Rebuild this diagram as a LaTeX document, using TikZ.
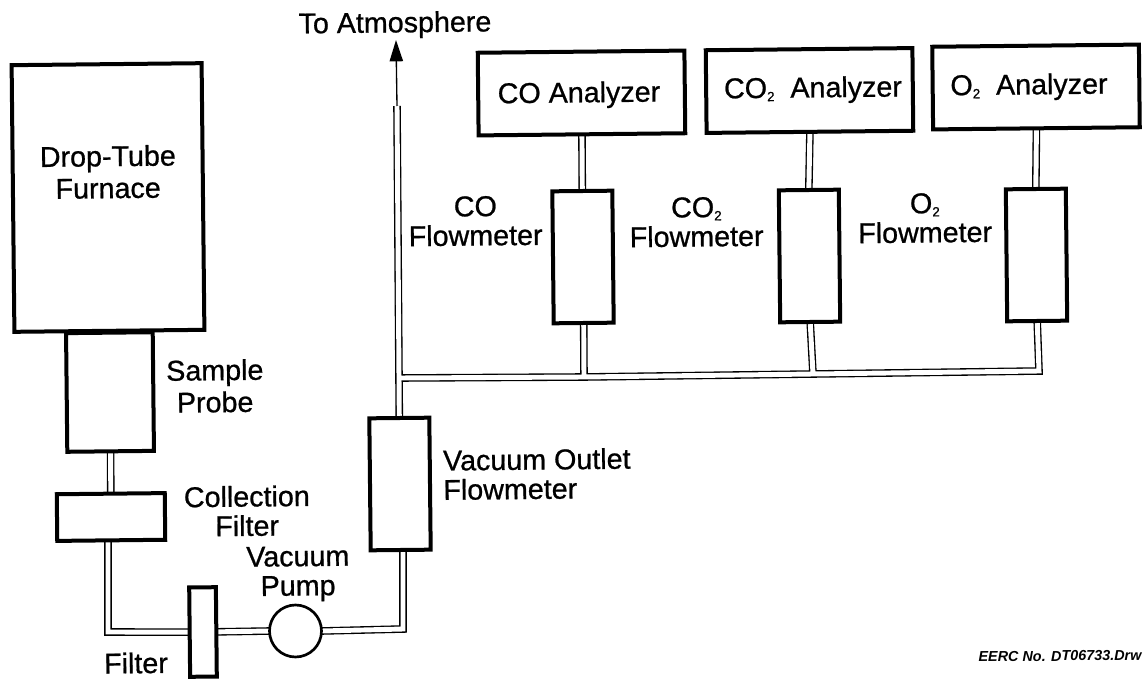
\documentclass[tikz,border=0pt]{standalone}
\usepackage{fontspec}
\setmainfont[RawFeature={embolden=0.8}]{Liberation Sans}
\newfontfamily\stampfont[ItalicFont={Liberation Sans Bold Italic}]{Liberation Sans}
\usetikzlibrary{arrows.meta, backgrounds}
\newcommand{\subtwo}{\raisebox{-2.5pt}{\fontsize{10}{10}\selectfont 2}}

\begin{document}
\begin{tikzpicture}[
    x=0.75pt, y=-0.75pt,
    unit/.style={rectangle, draw, line width=3pt, fill=white, outer sep=0pt, inner sep=0pt, rotate=0.6},
    analyzer/.style={unit, minimum width=155pt, minimum height=62pt},
    meter/.style={unit, minimum width=45pt, minimum height=99pt},
    pump/.style={circle, draw, line width=2pt, fill=white, outer sep=0pt, inner sep=0pt, minimum size=39pt},
    pipe/.style={draw, line width=1pt, double, double distance=3.7pt},
    label/.style={font=\fontsize{21.5}{23}\selectfont, align=center, inner sep=0pt, rotate=0.6},
    >={Triangle[width=10pt, length=16pt]}
]
    \useasboundingbox (0,0) rectangle (1146,681);

    \node[unit, minimum width=142.5pt, minimum height=200pt] (furnace) at (108,197.5) {};
    \node[unit, minimum width=65pt, minimum height=89pt] (probe) at (110,392) {};
    \node[unit, minimum width=81pt, minimum height=35pt] (colfilter) at (111,517) {};
    \node[unit, minimum width=20pt, minimum height=67pt] (filter) at (203,632) {};
    \node[pump] (vacpump) at (295.5,631) {};
    \node[meter] (outletfm) at (400,484) {};

    \node[analyzer] (coan) at (581.5,93) {};
    \node[analyzer] (cotwoan) at (809.5,90.5) {};
    \node[analyzer] (otwoan) at (1036,87) {};
    \node[meter] (cofm) at (583,257) {};
    \node[meter] (cotwofm) at (809.5,256) {};
    \node[meter] (otwofm) at (1036.5,255) {};

    \coordinate (bendfilter) at (108,632);
    \coordinate (bendoutlet) at (403,629);
    \coordinate (pipetop) at (397,106);
    \coordinate (arrowtip) at (396,40);
    \coordinate (joinmain) at (399,378);
    \coordinate (joinco) at (584,377);
    \coordinate (joincotwo) at (813,374);
    \coordinate (joinotwo) at (1039,371);

    % pipes go under the boxes
    \begin{pgfonlayer}{background}
        \path[pipe] (probe.south) -- (colfilter.north)
            (colfilter.south -| bendfilter) -- (bendfilter) -- (filter.west)
            (filter.east) -- (vacpump.west)
            (vacpump.east) -- (bendoutlet) -- (bendoutlet |- outletfm.south)
            (outletfm.north) -- (joinmain) -- (pipetop)
            (joinmain) -- (joinco) -- (joincotwo) -- (joinotwo) -- (otwofm.south)
            (joinco) -- (cofm.south)
            (joincotwo) -- (cotwofm.south)
            (coan.south) -- (cofm.north)
            (cotwoan.south) -- (cotwofm.north)
            (otwoan.south) -- (otwofm.north);
    \end{pgfonlayer}
    \draw[->, line width=1pt] (pipetop) -- (arrowtip);

    \node[label] (atmo) at (395,25) {To Atmosphere};
    \node[label] at (108,172) {Drop-Tube\\[1pt]Furnace};
    \node[label] at (215,386) {Sample\\[1pt]Probe};
    \node[label] at (247,511) {Collection\\[-1pt]Filter};
    \node[label] at (298,574) {Vacuum\\[-1pt]Pump};
    \node[label] at (136,663) {Filter};
    \node[label, align=left, anchor=west] at (443,475) {Vacuum Outlet\\[-1pt]Flowmeter};
    \node[label] at (579,95) {CO Analyzer};
    \node[label] at (813,90) {CO\subtwo\ \ Analyzer};
    \node[label] at (1029,87) {O\subtwo\ \ Analyzer};
    \node[label] at (475.5,221) {CO\\[-1pt]Flowmeter};
    \node[label] at (696.5,222) {CO\subtwo\\[-1pt]Flowmeter};
    \node[label] at (925,218) {O\subtwo\\[-1pt]Flowmeter};
    \node[label, font=\fontsize{10.8}{12}\stampfont\itshape] at (1060,656) {EERC No. DT06733.Drw};
\end{tikzpicture}
\end{document}
